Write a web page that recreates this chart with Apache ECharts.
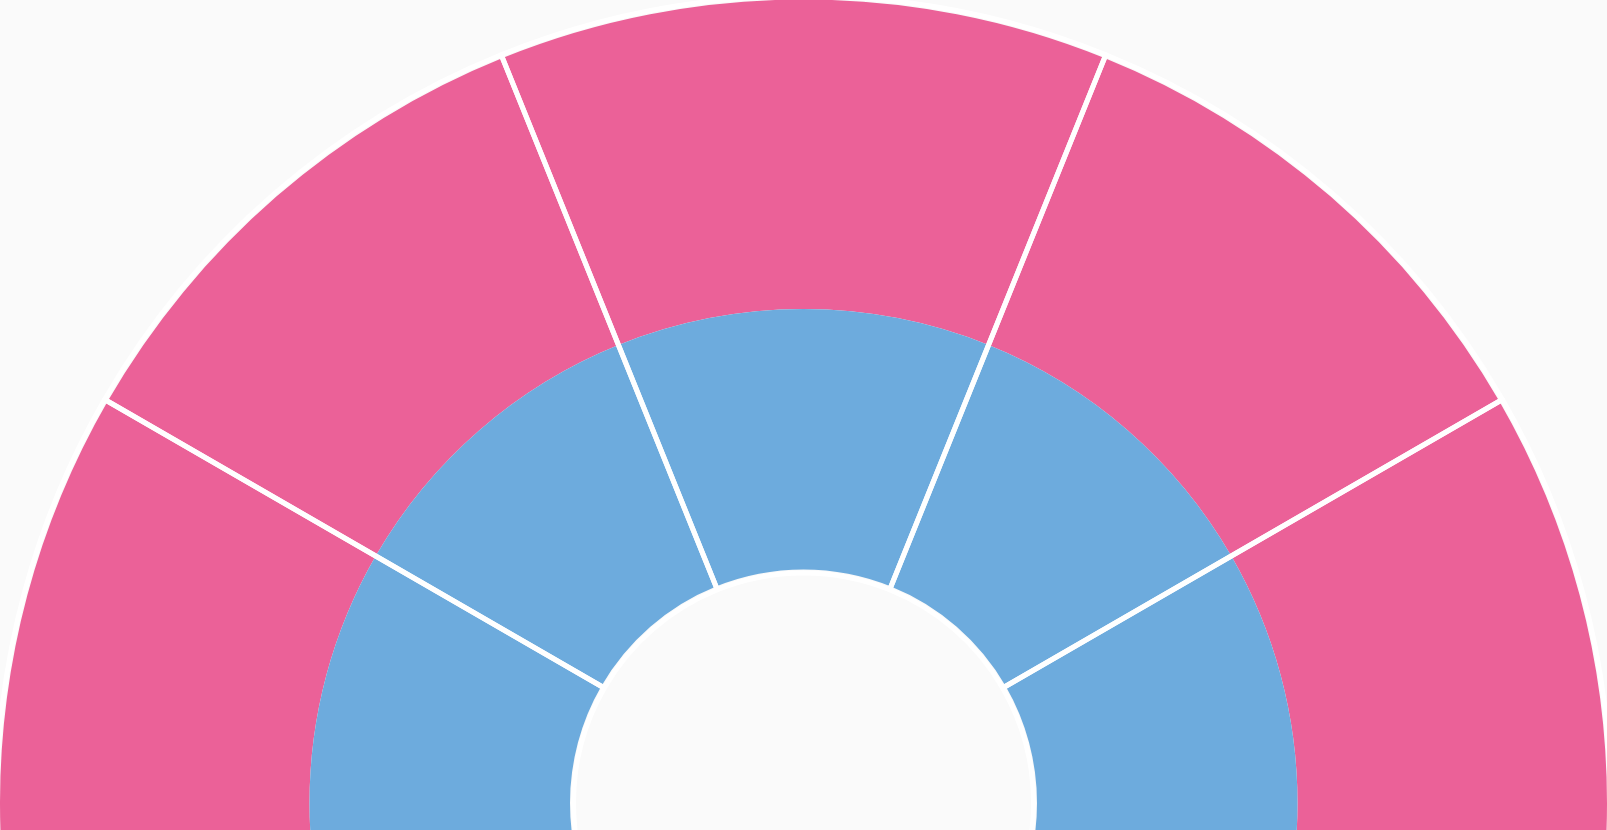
<!DOCTYPE html>
<html>
<head>
<meta charset="utf-8">
<script src="https://cdn.jsdelivr.net/npm/echarts@6/dist/echarts.min.js"></script>
<style>
  html, body { margin: 0; padding: 0; background: #FAFAFA; }
  #chart { width: 1607px; height: 830px; }
</style>
</head>
<body>
<div id="chart"></div>
<script>
// Slice categories (clockwise from the top slice)
const sliceNames = ['Top', 'Upper right', 'Right', 'Lower right', 'Bottom', 'Lower left', 'Left', 'Upper left'];
// Angular share of each slice (degrees)
const outerValues = [44, 38, 60, 38, 44, 38, 60, 38];
const innerValues = [44, 38, 60, 38, 44, 38, 60, 38];
const ringColors = { outer: '#EB6198', inner: '#6DABDD' };

const chart = echarts.init(document.getElementById('chart'), null, { renderer: 'canvas' });

const toData = vals => vals.map((v, i) => ({ name: sliceNames[i], value: v }));
const common = {
  type: 'pie',
  center: [803.5, 803],
  startAngle: 112,
  clockwise: true,
  silent: true,
  animation: false,
  label: { show: false },
  labelLine: { show: false },
  emphasis: { disabled: true }
};

chart.setOption({
  backgroundColor: '#FAFAFA',
  animation: false,
  series: [
    Object.assign({}, common, {
      name: 'outer',
      radius: [494, 803.5],
      itemStyle: { color: ringColors.outer, borderWidth: 0 },
      data: toData(outerValues)
    }),
    Object.assign({}, common, {
      name: 'inner',
      radius: [233.5, 494],
      itemStyle: { color: ringColors.inner, borderWidth: 0 },
      data: toData(innerValues)
    }),
    Object.assign({}, common, {
      name: 'separators',
      radius: [230, 807],
      z: 5,
      itemStyle: { color: 'rgba(0,0,0,0)', borderColor: '#FFFFFF', borderWidth: 5 },
      data: toData(outerValues)
    })
  ]
});
</script>
</body>
</html>
